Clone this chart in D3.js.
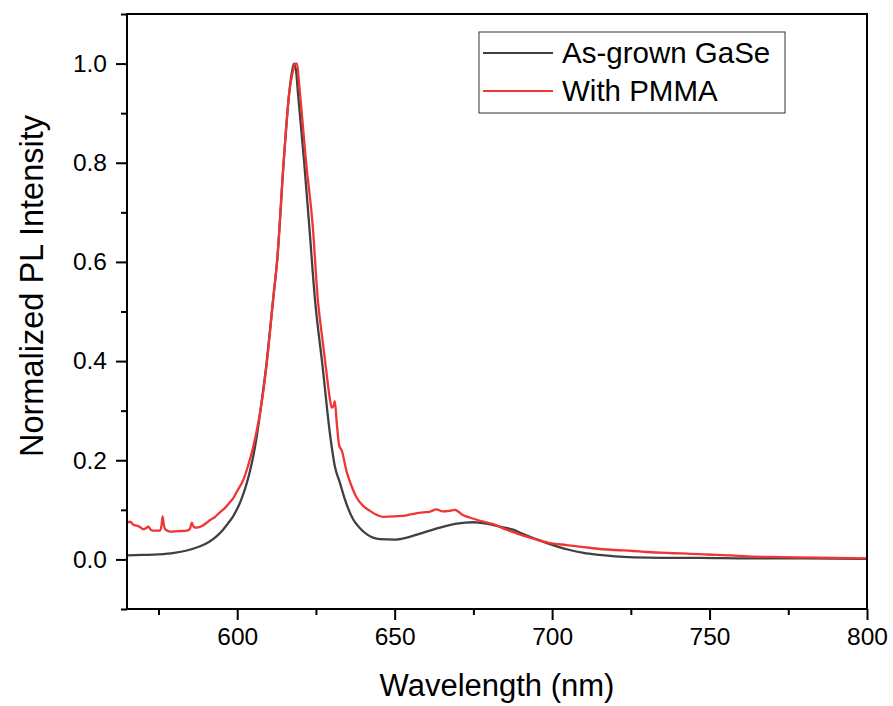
<!DOCTYPE html>
<html>
<head>
<meta charset="utf-8">
<script src="https://cdn.jsdelivr.net/npm/d3@7"></script>
<style>
  body { margin: 0; background: #fff; }
  svg text { font-family: Arial, "Liberation Sans", sans-serif; fill: #000; }
</style>
</head>
<body>
<svg id="chart" width="893" height="706"></svg>
<script>
// As-grown GaSe (black)
const grownWl = [565, 570, 575, 580, 584, 588, 591, 593.5, 595.5, 597, 598.7, 600, 601, 602, 603, 604, 605, 606, 607, 608,
  609.3, 610.3, 611.4, 612.7, 614.8, 616.5, 617.3, 618, 618.7, 619.3, 621.2, 622.9, 624.7, 627.1, 629.4, 631, 632.6,
  634.2, 636.8, 639, 641.1, 645.3, 650, 653.8, 659.1, 664.4, 669.7, 674.9, 679.2, 683.4, 687.6, 690.8, 694,
  699.3, 705, 710, 715, 720, 726, 735, 747, 762, 780, 800];
const grownPL = [0.008, 0.009, 0.010, 0.013, 0.018, 0.026, 0.035, 0.047, 0.060, 0.072, 0.087, 0.102, 0.116, 0.133, 0.153, 0.177, 0.205, 0.240, 0.283, 0.330,
  0.395, 0.455, 0.524, 0.604, 0.806, 0.940, 0.980, 1.000, 0.985, 0.940, 0.806, 0.671, 0.524, 0.390, 0.256, 0.188, 0.155,
  0.121, 0.081, 0.063, 0.051, 0.041, 0.040, 0.044, 0.054, 0.064, 0.072, 0.075, 0.072, 0.066, 0.060, 0.051, 0.043,
  0.031, 0.020, 0.013, 0.009, 0.006, 0.004, 0.003, 0.003, 0.002, 0.002, 0.001];

// With PMMA (red)
const pmmaWl = [565, 566, 567, 568.1, 569, 570.2, 571, 571.8, 572.5, 573.3, 575.5, 576, 576.3, 576.7, 577.1, 578.7, 581, 584,
  585, 585.6, 586.2, 587.1, 589, 590.3, 591.3, 593, 594.5, 596, 597.5, 598.7, 600, 601.9, 603.5, 605, 606.2, 607.5, 609.3,
  611.4, 612.7, 614.8, 616.5, 617.7, 618.4, 619, 619.5, 620.5, 621.8, 624, 625.6, 626.8, 628.2, 629.4, 630, 630.6,
  631, 631.6, 632.4, 633.2, 634.7, 636.3, 637.9, 640, 642.1, 646.4, 650, 653.8, 656, 659.1, 661, 663.3, 665, 667.5,
  669.1, 671.8, 674, 677.1, 681.3, 685.5, 690.8, 695.1, 699.3, 704.6, 710, 715.2, 720, 725.7, 730, 736.3, 741,
  746.9, 752, 757, 762, 770, 778, 790, 800];
const pmmaPL = [0.074, 0.076, 0.070, 0.068, 0.066, 0.061, 0.063, 0.066, 0.060, 0.058, 0.058, 0.070, 0.087, 0.070, 0.061, 0.056, 0.057, 0.058,
  0.062, 0.074, 0.065, 0.064, 0.068, 0.074, 0.079, 0.086, 0.095, 0.103, 0.114, 0.123, 0.138, 0.160, 0.190, 0.225, 0.260, 0.305, 0.390,
  0.524, 0.604, 0.806, 0.940, 0.985, 1.000, 1.000, 0.970, 0.900, 0.806, 0.671, 0.524, 0.457, 0.385, 0.325, 0.306, 0.310,
  0.319, 0.276, 0.229, 0.220, 0.178, 0.148, 0.125, 0.108, 0.098, 0.086, 0.087, 0.089, 0.092, 0.095, 0.096, 0.101, 0.097, 0.098,
  0.100, 0.089, 0.084, 0.078, 0.071, 0.060, 0.048, 0.040, 0.033, 0.029, 0.025, 0.021, 0.019, 0.017, 0.015, 0.013, 0.012,
  0.0107, 0.009, 0.008, 0.006, 0.005, 0.004, 0.003, 0.002];

const seriesNames = ['As-grown GaSe', 'With PMMA'];
const seriesColors = ['#404040', '#f03535'];
const xMajor = [600, 650, 700, 750, 800];
const xMinor = [575, 625, 675, 725, 775];
const yMajor = [0.0, 0.2, 0.4, 0.6, 0.8, 1.0];
const yMinor = [-0.1, 0.1, 0.3, 0.5, 0.7, 0.9, 1.1];

const svg = d3.select('#chart');
const m = { left: 127, right: 867, top: 14, bottom: 609 };

const x = d3.scaleLinear().domain([565, 800]).range([m.left, m.right]);
const y = d3.scaleLinear().domain([-0.1, 1.1]).range([m.bottom, m.top]);

const series = [
  grownWl.map((w, i) => [w, grownPL[i]]),
  pmmaWl.map((w, i) => [w, pmmaPL[i]])
];

const line = d3.line().x(d => x(d[0])).y(d => y(d[1])).curve(d3.curveMonotoneX);

const plot = svg.append('g');
plot.append('clipPath').attr('id', 'clip')
  .append('rect').attr('x', m.left).attr('y', m.top)
  .attr('width', m.right - m.left).attr('height', m.bottom - m.top);

const lines = plot.append('g').attr('clip-path', 'url(#clip)');
series.forEach((s, i) => {
  lines.append('path')
    .datum(s)
    .attr('fill', 'none')
    .attr('stroke', seriesColors[i])
    .attr('stroke-width', 2.3)
    .attr('stroke-linejoin', 'round')
    .attr('d', line);
});

// frame
svg.append('rect')
  .attr('x', m.left).attr('y', m.top)
  .attr('width', m.right - m.left).attr('height', m.bottom - m.top)
  .attr('fill', 'none').attr('stroke', '#000').attr('stroke-width', 2);

// x axis
svg.append('g').attr('transform', `translate(0,${m.bottom})`)
  .call(d3.axisBottom(x).tickValues(xMajor).tickSize(11).tickPadding(8).tickFormat(d3.format('d')));
svg.append('g').attr('transform', `translate(0,${m.bottom})`)
  .call(d3.axisBottom(x).tickValues(xMinor).tickSize(6).tickFormat(''));

// y axis
svg.append('g').attr('transform', `translate(${m.left},0)`)
  .call(d3.axisLeft(y).tickValues(yMajor).tickSize(11).tickPadding(9).tickFormat(d3.format('.1f')));
svg.append('g').attr('transform', `translate(${m.left},0)`)
  .call(d3.axisLeft(y).tickValues(yMinor).tickSize(6).tickFormat(''));

svg.selectAll('.domain').remove();
svg.selectAll('.tick line').attr('stroke', '#000').attr('stroke-width', 2);
svg.selectAll('.tick text').attr('font-size', 24.5).attr('fill', '#000');

// axis titles
svg.append('text')
  .attr('x', (m.left + m.right) / 2).attr('y', 696)
  .attr('text-anchor', 'middle').attr('font-size', 31)
  .text('Wavelength (nm)');
svg.append('text')
  .attr('transform', `translate(43,286) rotate(-90)`)
  .attr('text-anchor', 'middle').attr('font-size', 32.5)
  .text('Normalized PL Intensity');

// legend
const lg = svg.append('g');
lg.append('rect').attr('x', 479).attr('y', 32).attr('width', 306).attr('height', 81)
  .attr('fill', '#fff').attr('stroke', '#333').attr('stroke-width', 1);
seriesNames.forEach((name, i) => {
  const ly = 53 + i * 38;
  lg.append('line').attr('x1', 483).attr('x2', 553).attr('y1', ly).attr('y2', ly)
    .attr('stroke', seriesColors[i]).attr('stroke-width', 2);
  lg.append('text').attr('x', 562).attr('y', ly + 10).attr('font-size', 29.5).text(name);
});
</script>
</body>
</html>
